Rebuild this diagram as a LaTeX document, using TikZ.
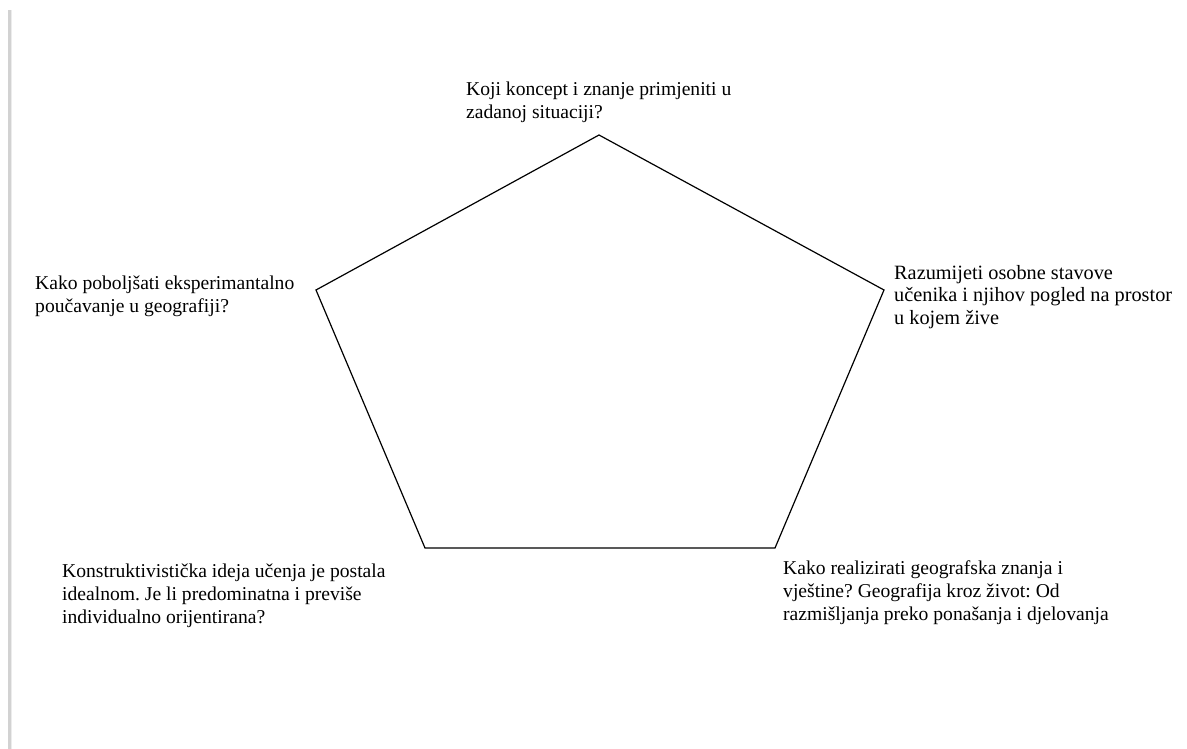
\documentclass[tikz,border=0pt]{standalone}
\usepackage{fontspec}
\setmainfont{Liberation Serif}
\frenchspacing
\begin{document}
\begin{tikzpicture}[x=1pt,y=-1pt,
  lbl/.style={anchor=base west,align=left,inner sep=0pt,font=\fontsize{19.6}{23}\selectfont},
  edge/.style={draw=black,line width=1.2pt,line join=miter}]
\useasboundingbox[fill=white] (0,0) rectangle (1187,749);
\fill[gray!35] (8,10) rectangle (11,749);
\fill[gray!15] (11,10) rectangle (12,749);
\coordinate (T) at (599,135);
\coordinate (R) at (884,290);
\coordinate (BR) at (775,548);
\coordinate (BL) at (425,548);
\coordinate (L) at (316,290);
\draw[edge] (T) -- (R) -- (BR) -- (BL) -- (L) -- cycle;
\node[lbl] (t) at (466,119) {Koji koncept i znanje primjeniti u\\zadanoj situaciji?};
\node[lbl] (l) at (35,312) {Kako poboljšati eksperimantalno\\poučavanje u geografiji?};
\node[lbl,font=\fontsize{20.3}{22.5}\selectfont] (r) at (894,324) {Razumijeti osobne stavove\\učenika i njihov pogled na prostor\\u kojem žive};
\node[lbl] (bl) at (62,623) {Konstruktivistička ideja učenja je postala\\idealnom. Je li predominatna i previše\\individualno orijentirana?};
\node[lbl] (br) at (783,620) {Kako realizirati geografska znanja i\\vještine? Geografija kroz život: Od\\razmišljanja preko ponašanja i djelovanja};
\end{tikzpicture}
\end{document}
